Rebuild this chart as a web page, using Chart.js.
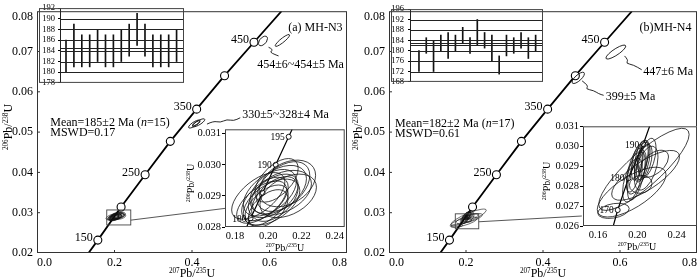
<!DOCTYPE html>
<html>
<head>
<meta charset="utf-8">
<title>U-Pb concordia MH-N3 / MH-N4</title>
<script src="https://cdn.jsdelivr.net/npm/chart.js@4.4.1/dist/chart.umd.min.js"></script>
<style>
  html, body { margin: 0; padding: 0; background: #fff; }
  #wrap { position: relative; width: 700px; height: 280px; overflow: hidden; }
  #wrap canvas { position: absolute; }
</style>
</head>
<body>
<div id="wrap">
  <canvas id="mainA" width="350" height="280" style="left:0px;top:0px"></canvas>
  <canvas id="mainB" width="355" height="280" style="left:345px;top:0px"></canvas>
  <canvas id="wmA" width="148" height="91" style="left:38px;top:0px"></canvas>
  <canvas id="wmB" width="154" height="91" style="left:390px;top:0px"></canvas>
  <canvas id="insA" width="167" height="134" style="left:180px;top:122px"></canvas>
  <canvas id="insB" width="165" height="137" style="left:535px;top:119px"></canvas>
</div>
<script>
// ---- values ----

// concordia marks (Ma) on the main plots
const concAge = [150, 200, 250, 300, 350, 400, 450];
const concX   = [0.157, 0.217, 0.279, 0.344, 0.412, 0.484, 0.560];
const concY   = [0.0232, 0.0314, 0.0394, 0.0477, 0.0557, 0.0640, 0.0723];
const concEnds = [[0.133, 0.020], [0.631, 0.080]];
const concNamed = [150, 250, 350, 450];
const mainXTicks = [0, 0.2, 0.4, 0.6, 0.8];
const mainYTicks = [0.02, 0.03, 0.04, 0.05, 0.06, 0.07, 0.08];

// weighted mean plots (206Pb/238U ages, Ma)
const wmA_lo = [180, 181, 181, 181, 182, 181, 181, 182, 183, 185, 183, 181, 181, 181, 182];
const wmA_hi = [186, 189, 187, 187, 188, 187, 187, 188, 189, 191, 189, 187, 187, 187, 188];
const wmA_lines = [190, 188, 186, 184.5, 184, 182, 180];
const wmA_ticks = [178, 180, 182, 184, 186, 188, 190, 192];

const wmB_lo = [172, 179, 172, 180, 177, 180, 183, 179, 182, 181, 176, 171, 178, 179, 181, 177, 180];
const wmB_hi = [180, 185, 184, 186, 187, 186, 189, 185, 192, 187, 186, 178, 186, 185, 187, 185, 186];
const wmB_lines = [192, 188, 184, 183, 182.2, 180, 176, 172];
const wmB_ticks = [168, 172, 176, 180, 184, 188, 192, 196];

// inset concordia (a)
const insA_age = [180, 185, 190, 195];
const insA_x = [0.1894, 0.1966, 0.2045, 0.2123];
const insA_y = [0.02828, 0.0291, 0.0300, 0.0309];
const insA_ends = [[0.187, 0.028], [0.2144, 0.03114]];
const insA_named = [180, 190, 195];
const insA_xTicks = [0.18, 0.20, 0.22, 0.24];
const insA_yTicks = [0.028, 0.029, 0.030, 0.031];

// inset concordia (b)
const insB_age = [170, 180, 190];
const insB_x = [0.180, 0.191, 0.206];
const insB_y = [0.0268, 0.0284, 0.0301];
const insB_ends = [[0.1755, 0.026], [0.2125, 0.031]];
const insB_named = [170, 180, 190];
const insB_xTicks = [0.16, 0.20, 0.24];
const insB_yTicks = [0.026, 0.027, 0.028, 0.029, 0.030, 0.031];

// spot error ellipses, (a) MH-N3: centre, half widths, correlation
const spotA_x   = [0.198, 0.201, 0.196, 0.203, 0.206, 0.199, 0.204, 0.209, 0.2115, 0.205, 0.208, 0.194, 0.200, 0.202, 0.212];
const spotA_y   = [0.0289, 0.0291, 0.0288, 0.0290, 0.0292, 0.0287, 0.0289, 0.0293, 0.0294, 0.0295, 0.0291, 0.0290, 0.0286, 0.0288, 0.0290];
const spotA_sx  = [0.014, 0.016, 0.015, 0.015, 0.017, 0.013, 0.014, 0.016, 0.017, 0.013, 0.018, 0.016, 0.012, 0.017, 0.017];
const spotA_sy  = [0.00070, 0.00075, 0.00068, 0.00070, 0.00078, 0.00065, 0.00072, 0.00080, 0.00075, 0.00070, 0.00072, 0.00075, 0.00060, 0.00074, 0.00070];
const spotA_rho = [0.55, 0.5, 0.6, 0.5, 0.45, 0.55, 0.5, 0.45, 0.35, 0.55, 0.4, 0.6, 0.5, 0.5, 0.4];

// spot error ellipses, (b) MH-N4
const spotB_x   = [0.2067, 0.1942, 0.1757, 0.2084, 0.2034, 0.2167, 0.200, 0.204, 0.197, 0.203, 0.207, 0.199, 0.206, 0.195, 0.210, 0.201, 0.209];
const spotB_y   = [0.02884, 0.0277, 0.02676, 0.02854, 0.02809, 0.02912, 0.0292, 0.0293, 0.0288, 0.0290, 0.0292, 0.0285, 0.0295, 0.0283, 0.0294, 0.0289, 0.0289];
const spotB_sx  = [0.046, 0.035, 0.016, 0.0345, 0.0115, 0.015, 0.006, 0.007, 0.008, 0.006, 0.008, 0.009, 0.006, 0.010, 0.009, 0.012, 0.012];
const spotB_sy  = [0.00206, 0.00125, 0.00038, 0.00125, 0.00045, 0.00068, 0.0009, 0.0010, 0.0011, 0.0008, 0.0009, 0.0012, 0.0008, 0.0011, 0.0010, 0.0013, 0.0011];
const spotB_rho = [0.85, 0.7, 0.3, 0.75, 0.1, 0.5, 0.5, 0.45, 0.6, 0.4, 0.5, 0.6, 0.5, 0.55, 0.5, 0.65, 0.5];

// older inherited spots on the main plots
const oldA_x   = [0.5832, 0.6333, 0.406, 0.417, 0.411];
const oldA_y   = [0.07262, 0.07274, 0.0520, 0.0523, 0.0522];
const oldA_sx  = [0.0116, 0.0186, 0.015, 0.016, 0.009];
const oldA_sy  = [0.00119, 0.00148, 0.0010, 0.0010, 0.0006];
const oldA_rho = [0.5, 0.9, 0.8, 0.8, 0.8];

const oldB_x   = [0.5892, 0.4916];
const oldB_y   = [0.06986, 0.06345];
const oldB_sx  = [0.0258, 0.016];
const oldB_sy  = [0.00174, 0.0014];
const oldB_rho = [0.85, 0.75];

// ---- drawing ----
const SERIF = '"Liberation Serif", "Times New Roman", serif';
Chart.defaults.font.family = SERIF;
Chart.defaults.color = '#000';
Chart.defaults.animation = false;
Chart.defaults.responsive = false;
Chart.defaults.devicePixelRatio = 1;
Chart.defaults.events = [];
Chart.defaults.plugins.legend.display = false;
Chart.defaults.plugins.tooltip.enabled = false;

const X_TITLE = [['207', 's'], ['Pb/', 'n'], ['235', 's'], ['U', 'n']];
const Y_TITLE = [['206', 's'], ['Pb/', 'n'], ['238', 's'], ['U', 'n']];

const spotsA = { x: spotA_x, y: spotA_y, sx: spotA_sx, sy: spotA_sy, rho: spotA_rho };
const spotsB = { x: spotB_x, y: spotB_y, sx: spotB_sx, sy: spotB_sy, rho: spotB_rho };
const oldsA = { x: oldA_x, y: oldA_y, sx: oldA_sx, sy: oldA_sy, rho: oldA_rho };
const oldsB = { x: oldB_x, y: oldB_y, sx: oldB_sx, sy: oldB_sy, rho: oldB_rho };

// text with superscript / italic pieces, y is the visual middle
function rich(ctx, parts, x, y, size, align, rot) {
  const fontOf = st => st === 's' ? (size * 0.6).toFixed(1) + 'px ' + SERIF
    : (st === 'i' ? 'italic ' : '') + size + 'px ' + SERIF;
  ctx.save();
  ctx.translate(x, y);
  if (rot) ctx.rotate(-Math.PI / 2);
  let w = 0;
  parts.forEach(p => { ctx.font = fontOf(p[1]); w += ctx.measureText(p[0]).width; });
  let cx = align === 'center' ? -w / 2 : (align === 'right' ? -w : 0);
  ctx.fillStyle = '#000';
  ctx.textAlign = 'left';
  ctx.textBaseline = 'alphabetic';
  parts.forEach(p => {
    ctx.font = fontOf(p[1]);
    ctx.fillText(p[0], cx, p[1] === 's' ? size * 0.02 : size * 0.35);
    cx += ctx.measureText(p[0]).width;
  });
  ctx.restore();
}

// error ellipses mapped through the chart scales
function ellipses(chart, e, lw) {
  const { ctx, chartArea: a, scales: { x: xs, y: ys } } = chart;
  const kx = xs.getPixelForValue(1) - xs.getPixelForValue(0);
  const ky = ys.getPixelForValue(0) - ys.getPixelForValue(1);
  ctx.save();
  ctx.beginPath();
  ctx.rect(a.left, a.top, a.right - a.left, a.bottom - a.top);
  ctx.clip();
  ctx.lineWidth = lw;
  ctx.strokeStyle = '#111';
  for (let i = 0; i < e.x.length; i++) {
    const r = e.rho[i];
    ctx.save();
    ctx.translate(xs.getPixelForValue(e.x[i]), ys.getPixelForValue(e.y[i]));
    ctx.transform(kx * e.sx[i], -ky * e.sy[i] * r, 0, -ky * e.sy[i] * Math.sqrt(1 - r * r), 0, 0);
    ctx.beginPath();
    ctx.arc(0, 0, 1, 0, Math.PI * 2);
    ctx.restore();
    ctx.stroke();
  }
  ctx.restore();
}

function wave(chart, pts) {
  const { ctx, scales: { x: xs, y: ys } } = chart;
  const p = pts.map(q => [xs.getPixelForValue(q[0]), ys.getPixelForValue(q[1])]);
  ctx.beginPath();
  ctx.moveTo(p[0][0], p[0][1]);
  for (let i = 1; i < p.length - 1; i++) {
    ctx.quadraticCurveTo(p[i][0], p[i][1], (p[i][0] + p[i + 1][0]) / 2, (p[i][1] + p[i + 1][1]) / 2);
  }
  ctx.lineTo(p[p.length - 1][0], p[p.length - 1][1]);
  ctx.stroke();
}

function curve(xs, ys, ends, r) {
  const pts = [{ x: ends[0][0], y: ends[0][1] }]
    .concat(xs.map((v, i) => ({ x: v, y: ys[i] })), [{ x: ends[1][0], y: ends[1][1] }]);
  const rad = [0].concat(xs.map(() => r), [0]);
  return { pts, rad };
}

function fixedTicks(list) {
  return s => { s.ticks = list.map(v => ({ value: v })); };
}

// ---- main concordia panels ----
function mainChart(id, p) {
  const c = curve(concX, concY, concEnds, 4);
  const top = mainYTicks[mainYTicks.length - 1];
  return new Chart(document.getElementById(id), {
    type: 'scatter',
    data: { datasets: [{
      data: c.pts, showLine: true, borderColor: '#000', borderWidth: 1.8,
      pointRadius: c.rad, pointBackgroundColor: '#fff', pointBorderColor: '#000', pointBorderWidth: 1.1
    }] },
    options: {
      layout: { padding: { left: p.padL, top: 1, right: p.padR, bottom: 0 } },
      scales: {
        x: {
          type: 'linear', min: 0, max: 0.8,
          afterBuildTicks: fixedTicks(mainXTicks),
          afterFit: s => { s.height = 27; },
          grid: { drawOnChartArea: false, drawTicks: false },
          border: { display: false },
          ticks: { align: 'inner', padding: 3, font: { size: 12 }, maxRotation: 0, autoSkip: false,
                   callback: v => v.toFixed(1) }
        },
        y: {
          type: 'linear', min: mainYTicks[0], max: top,
          afterBuildTicks: fixedTicks(mainYTicks),
          afterFit: s => { s.width = 37; },
          grid: { drawOnChartArea: false, drawTicks: false },
          border: { display: false },
          ticks: { padding: 4, font: { size: 12 }, autoSkip: false,
                   callback: v => (Math.abs(v - top) < 1e-9 ? '' : v.toFixed(2)) }
        }
      }
    },
    plugins: [{
      id: 'decor',
      afterDatasetsDraw(ch) {
        const { ctx, chartArea: a, scales: { x: xs, y: ys } } = ch;
        const X = v => xs.getPixelForValue(v), Y = v => ys.getPixelForValue(v);
        ctx.save();
        ctx.strokeStyle = '#333';
        ctx.lineWidth = 1;
        ctx.strokeRect(a.left + 0.5, a.top + 0.5, a.right - a.left - 1, a.bottom - a.top - 1);
        ctx.beginPath();
        mainXTicks.slice(1, -1).forEach(v => { ctx.moveTo(X(v), a.bottom); ctx.lineTo(X(v), a.bottom - 3); });
        mainYTicks.slice(1, -1).forEach(v => { ctx.moveTo(a.left, Y(v)); ctx.lineTo(a.left + 3, Y(v)); });
        ctx.stroke();
        ctx.font = '12px ' + SERIF;
        ctx.fillStyle = '#000';
        ctx.textAlign = 'right';
        ctx.textBaseline = 'middle';
        ctx.fillText(top.toFixed(2), a.left - 4, a.top + 6);

        ellipses(ch, p.spots, 0.6);
        ellipses(ch, p.old, 0.9);

        ctx.strokeStyle = '#444';
        ctx.lineWidth = 0.9;
        const b = p.box;
        ctx.strokeRect(X(b[0]), Y(b[3]), X(b[2]) - X(b[0]), Y(b[1]) - Y(b[3]));
        ctx.beginPath();
        ctx.moveTo(X(p.link[0][0]), Y(p.link[0][1]));
        ctx.lineTo(X(p.link[1][0]), Y(p.link[1][1]));
        ctx.stroke();
        ctx.strokeStyle = '#111';
        p.waves.forEach(w => wave(ch, w));

        p.notes.forEach(n => rich(ctx, n.t, X(n.x), Y(n.y), 12, 'left'));

        concNamed.forEach(age => {
          const i = concAge.indexOf(age);
          rich(ctx, [[String(age), 'n']], X(concX[i]) - 5, Y(concY[i]) - 3, 12, 'right');
        });

        rich(ctx, X_TITLE, X(0.4), 273, 12, 'center');
        rich(ctx, Y_TITLE, p.yTitleX, 127, 12, 'center', true);
        ctx.restore();
      }
    }]
  });
}

// ---- weighted mean insets ----
function wmChart(id, lo, hi, lines, ticks, d) {
  return new Chart(document.getElementById(id), {
    type: 'bar',
    data: { datasets: [{
      data: lo.map((v, i) => ({ x: i, y: [v, hi[i]] })),
      backgroundColor: '#111', borderWidth: 0, barThickness: 1
    }] },
    options: {
      layout: { padding: { left: 0, top: 5, right: d.padR, bottom: 3 } },
      scales: {
        x: { type: 'linear', display: false, min: d.xr[0], max: d.xr[1], offset: false, grid: { offset: false } },
        y: {
          min: ticks[0], max: ticks[ticks.length - 1],
          afterBuildTicks: fixedTicks(ticks),
          afterFit: s => { s.width = d.yw; },
          grid: { drawOnChartArea: false, tickLength: 2, color: '#000' },
          border: { display: false },
          ticks: { padding: d.tPad, font: { size: 8.5 }, autoSkip: false }
        }
      }
    },
    plugins: [{
      id: 'wm',
      afterDatasetsDraw(ch) {
        const { ctx, chartArea: a, scales: { y: ys } } = ch;
        ctx.save();
        ctx.strokeStyle = '#222';
        ctx.lineWidth = 1;
        ctx.beginPath();
        lines.forEach(v => {
          const yy = Math.round(ys.getPixelForValue(v)) + 0.5;
          ctx.moveTo(a.left, yy); ctx.lineTo(a.right, yy);
        });
        ctx.moveTo(a.left + 0.5, a.top); ctx.lineTo(a.left + 0.5, a.bottom);
        ctx.stroke();
        ctx.strokeStyle = '#444';
        ctx.strokeRect(1.5, a.top + 0.5, a.right - 2, a.bottom - a.top - 1);
        ctx.restore();
      }
    }]
  });
}

// ---- enlarged concordia insets ----
function insetChart(id, d) {
  const c = curve(d.x, d.y, d.ends, 2.5);
  return new Chart(document.getElementById(id), {
    type: 'scatter',
    data: { datasets: [{
      data: c.pts, showLine: true, borderColor: '#000', borderWidth: 1.2,
      pointRadius: c.rad, pointBackgroundColor: '#fff', pointBorderColor: '#000', pointBorderWidth: 0.9
    }] },
    options: {
      layout: { padding: { left: 0, top: 6, right: d.padR, bottom: 0 } },
      scales: {
        x: {
          type: 'linear', min: d.xr[0], max: d.xr[1],
          afterBuildTicks: fixedTicks(d.xTicks),
          afterFit: s => { s.height = d.xh; },
          grid: { drawOnChartArea: false, drawTicks: false },
          border: { display: false },
          ticks: { padding: 3, font: { size: 10.5 }, maxRotation: 0, autoSkip: false, callback: v => v.toFixed(2) }
        },
        y: {
          type: 'linear', min: d.yr[0], max: d.yr[1],
          afterBuildTicks: fixedTicks(d.yTicks),
          afterFit: s => { s.width = d.yw; },
          grid: { drawOnChartArea: false, tickLength: 3, color: '#000' },
          border: { display: false },
          ticks: { padding: 1, font: { size: 10.5 }, autoSkip: false, callback: v => v.toFixed(3) }
        }
      }
    },
    plugins: [{
      id: 'bg',
      beforeDraw(ch) {
        const a = ch.chartArea;
        ch.ctx.save();
        ch.ctx.fillStyle = '#fff';
        ch.ctx.fillRect(a.left, a.top, a.right - a.left, a.bottom - a.top);
        ch.ctx.restore();
      }
    }, {
      id: 'deco',
      afterDatasetsDraw(ch) {
        const { ctx, chartArea: a, scales: { x: xs, y: ys } } = ch;
        ellipses(ch, d.spots, 0.8);
        ctx.save();
        ctx.strokeStyle = '#444';
        ctx.lineWidth = 1;
        ctx.strokeRect(a.left + 0.5, a.top + 0.5, a.right - a.left - 1, a.bottom - a.top - 1);
        d.named.forEach(age => {
          const i = d.age.indexOf(age);
          rich(ctx, [[String(age), 'n']], xs.getPixelForValue(d.x[i]) - 4, ys.getPixelForValue(d.y[i]), 9.5, 'right');
        });
        rich(ctx, X_TITLE, d.xTitle[0], d.xTitle[1], 10, 'center');
        rich(ctx, Y_TITLE, d.yTitle[0], d.yTitle[1], 10, 'center', true);
        ctx.restore();
      }
    }]
  });
}

mainChart('mainA', {
  padL: 0, padR: 3, yTitleX: 8,
  spots: spotsA, old: oldsA,
  box: [0.180, 0.02696, 0.242, 0.03068],
  link: [[0.242, 0.02815], [0.4858, 0.03108]],
  waves: [
    [[0.5976, 0.07105], [0.6105, 0.07048], [0.6002, 0.06986], [0.6149, 0.06921], [0.6234, 0.0689]],
    [[0.4386, 0.05198], [0.4556, 0.05277], [0.4729, 0.05236], [0.4902, 0.05317], [0.5072, 0.05277], [0.5245, 0.05356]]
  ],
  notes: [
    { t: [['454±6~454±5 Ma', 'n']], x: 0.5684, y: 0.06707 },
    { t: [['330±5~328±4 Ma', 'n']], x: 0.5297, y: 0.05444 },
    { t: [['(a) MH-N3', 'n']], x: 0.6484, y: 0.07613 },
    { t: [['Mean=185±2 Ma (', 'n'], ['n', 'i'], ['=15)', 'n']], x: 0.0341, y: 0.0526 },
    { t: [['MSWD=0.17', 'n']], x: 0.0341, y: 0.05002 }
  ]
});

mainChart('mainB', {
  padL: 7, padR: 1, yTitleX: 13,
  spots: spotsB, old: oldsB,
  box: [0.1722, 0.02601, 0.2331, 0.02972],
  link: [[0.2331, 0.02775], [0.5008, 0.02918]],
  waves: [
    [[0.6118, 0.0689], [0.6221, 0.06786], [0.6151, 0.06707], [0.635, 0.06667], [0.6564, 0.06547]],
    [[0.5016, 0.06271], [0.5188, 0.06152], [0.5103, 0.06071], [0.5317, 0.06032], [0.5446, 0.05951], [0.5575, 0.05913]]
  ],
  notes: [
    { t: [['447±6 Ma', 'n']], x: 0.6607, y: 0.06516 },
    { t: [['399±5 Ma', 'n']], x: 0.5627, y: 0.05897 },
    { t: [['(b)MH-N4', 'n']], x: 0.6506, y: 0.07613 },
    { t: [['Mean=182±2 Ma (', 'n'], ['n', 'i'], ['=17)', 'n']], x: 0.0155, y: 0.05222 },
    { t: [['MSWD=0.61', 'n']], x: 0.0155, y: 0.04974 }
  ]
});

wmChart('wmA', wmA_lo, wmA_hi, wmA_lines, wmA_ticks, { padR: 2, yw: 22, tPad: 3, xr: [-0.76, 14.94] });
wmChart('wmB', wmB_lo, wmB_hi, wmB_lines, wmB_ticks, { padR: 1, yw: 20, tPad: 4, xr: [-1.23, 17.01] });

insetChart('insA', {
  age: insA_age, x: insA_x, y: insA_y, ends: insA_ends, named: insA_named,
  xTicks: insA_xTicks, yTicks: insA_yTicks, xr: [0.174, 0.246], yr: [0.028, 0.03114],
  spots: spotsA, padR: 1, yw: 45, xh: 29, xTitle: [105, 125], yTitle: [10, 61]
});

insetChart('insB', {
  age: insB_age, x: insB_x, y: insB_y, ends: insB_ends, named: insB_named,
  xTicks: insB_xTicks, yTicks: insB_yTicks, xr: [0.1447, 0.2607], yr: [0.026, 0.031],
  spots: spotsB, padR: 3, yw: 48, xh: 30, xTitle: [102, 127], yTitle: [11, 62]
});
</script>
</body>
</html>
